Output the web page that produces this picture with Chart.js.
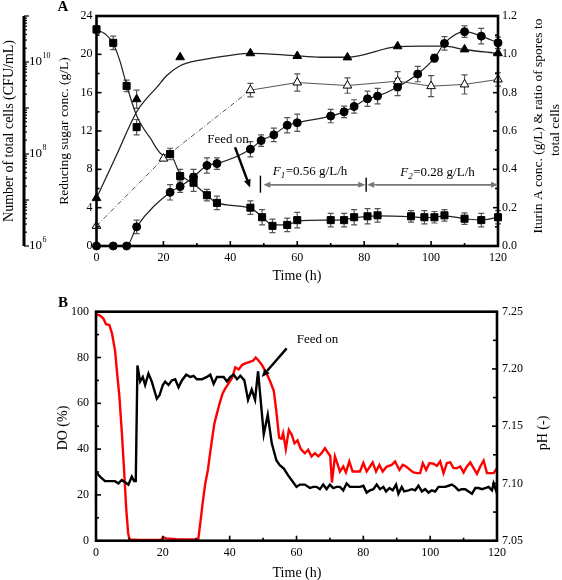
<!DOCTYPE html>
<html><head><meta charset="utf-8">
<script src="https://cdn.jsdelivr.net/npm/chart.js@4.4.0/dist/chart.umd.min.js"></script>
<style>
html,body{margin:0;padding:0;background:#fff;}
#wrap{position:relative;width:562px;height:580px;background:#fff;}
.box{position:absolute;left:0;width:562px;height:290px;}
</style></head><body>
<div id="wrap">
<div class="box" style="top:0"><canvas id="cA" width="562" height="290"></canvas></div>
<div class="box" style="top:290px"><canvas id="cB" width="562" height="290"></canvas></div>
</div>
<script>
const SERIF = "'Liberation Serif','Times New Roman',serif";

// ---------- Panel A data ----------
const sugarTime = [0,5,9,12,22,25,29,33,36,46,49.5,52.6,57,60,70,74,77,81,84,94,98,101,104,110,115,120];
const sugarVal  = [22.6,21.2,16.7,12.4,9.6,7.3,6.6,5.3,4.5,4.0,3.0,2.1,2.2,2.7,2.7,2.7,3.0,3.1,3.2,3.1,3.0,3.0,3.2,2.85,2.7,3.0];
const sugarErr  = [0.4,0.7,0.6,0.8,0.6,0.7,0.9,0.6,0.7,0.7,0.8,0.7,0.7,0.8,0.7,0.7,0.8,0.8,0.7,0.6,0.7,0.6,0.6,0.6,0.7,0.7];
const sugarFitTime = [0,3,5,7,9,12,16,20,22,25,29,33,36,46,49.5,52.6,57,60,70,74,77,81,84,94,98,101,104,110,115,120];
const sugarFit     = [22.6,22.0,21.1,19.3,16.8,13.6,11.3,9.5,9.5,7.5,6.5,5.3,4.5,3.95,3.05,2.2,2.2,2.6,2.7,2.75,2.95,3.1,3.15,3.05,2.95,3.0,3.15,2.85,2.7,3.0];

const iturinTime = [0,5,9,12,22,25,29,33,36,46,49.2,53,57,60,70,74,77,81,84,90,96,101,104,110,115,120];
const iturinVal  = [0,0,0,0.10,0.28,0.31,0.36,0.42,0.43,0.505,0.55,0.58,0.63,0.643,0.678,0.70,0.728,0.768,0.782,0.83,0.897,0.98,1.057,1.118,1.095,1.06];
const iturinErr  = [0,0,0,0.035,0.04,0.03,0.04,0.04,0.03,0.04,0.03,0.035,0.04,0.045,0.035,0.03,0.035,0.04,0.04,0.045,0.04,0.02,0.035,0.03,0.04,0.03];

const sporeTime = [0,20,46,60,75,90,100,110,120];
const sporeVal  = [0.105,0.456,0.813,0.853,0.837,0.86,0.834,0.843,0.869];
const sporeErr  = [0,0,0.035,0.045,0.04,0.05,0.055,0.05,0.035];

const cellTime = [0,12,25,46,60,75,90,110,120];
const cellVal  = [1.1e7,1.55e9,1.27e10,1.55e10,1.35e10,1.26e10,2.2e10,1.88e10,1.55e10];
const cellErrDecades = [0,0.2,0,0,0,0,0,0,0];
const cellFitTime = [0,6,12,15,18,21,25,31,40,46,58,67,75,90,97,104,110,120];
const cellFit     = [1.1e7,9.5e7,8.3e8,1.62e9,2.8e9,5.1e9,8.3e9,1.1e10,1.4e10,1.54e10,1.4e10,1.27e10,1.27e10,2.15e10,2.21e10,2.21e10,1.87e10,1.54e10];

const xTicksA = [0,20,40,60,80,100,120];

// ---------- Panel B data ----------
const doTime = [0,1.2,2.2,3,4,4.8,5.7,6.4,7,7.7,8.4,9,9.6,10,13,16,19.5,20,21,24,27,30.6,31.2,31.9,32.7,33.5,34,34.7,35.4,36.2,37,37.9,38.7,39.7,40.7,41.7,42.7,43.7,44.7,46.2,47,47.8,48.7,49.7,51,52,53.2,54,54.8,55.5,56,56.8,57.7,58.6,59.4,60.3,61.3,62.5,63.5,64.5,65.5,66.5,67.5,68.5,69.5,70.1,70.6,71.5,72.2,73,74,74.8,75.8,76.8,78,79,80,81,82,82.8,83.8,84.8,85.8,87,88.5,89.5,90.8,91.8,92.8,94,95,96.2,97,97.8,98.8,99.8,101,102,103,104,105,106,107,108,109,110,111,112,113,114,115,116,117,118,119,120];
const doVal  = [99,98.3,97,94.5,94.2,90.5,83,72,63,48,31,15,3.5,0.5,0.3,0.3,0.3,1.5,1,0.7,0.6,0.6,7.6,16.3,25,31,36.7,44,51,55.6,60,64.3,66.5,68.7,71,75.7,74.8,76.7,77.4,78.2,78.6,80,78.6,76.7,73.2,70,65.5,56,45,44.5,47,40,48.4,46.2,42.5,43.8,40,38.2,39.7,36.8,38.2,36.8,38.2,40.4,38.2,37,25.4,36.8,33.9,30.2,32.4,29.8,34.6,30.2,30.2,30.2,33.9,30.2,32.4,34.2,30.2,33.1,30.2,32.4,33.1,34.6,30.9,33.1,32.4,30.9,29.8,29.5,29.5,33.9,30.9,33.9,33.6,32.7,34.6,29.5,33.9,34.2,31.7,31.7,32.4,29.8,32.4,34.2,31.7,29.2,32.4,35,29.5,29.5,29.5,31.7];

const phTime = [0,1.2,2.7,4.7,5.7,6.7,7.7,8.7,9.7,10.7,11.4,11.9,12.4,13.2,14,14.7,15.7,16.7,17.4,18.2,19,20,20.7,21.7,22.7,23.7,24.7,25.7,27,28.2,29.2,30.2,31.7,33.2,34.2,35.2,36.2,38.2,39.2,40.2,41.2,42.2,43.2,44.4,45.5,46.6,47.6,48.5,50.2,51.4,52.6,54,55,56.2,57.5,59,60,61,62.5,64,65,66,67,68,69,70,71,72,73,74,75,76,77,79,80,81,82,83,84,85,86,86.8,87.8,88.8,89.8,90.5,91.5,92.2,93.5,94.5,95.5,96.5,97.5,98.5,99.5,100.5,101.5,102.5,103.5,104.5,105.5,106.5,107.5,108.5,109.5,110.5,111.5,112.5,113.5,114.5,115.5,116.5,117.5,118.5,119,119.8,120];
const phVal  = [7.110,7.106,7.102,7.102,7.102,7.100,7.103,7.101,7.099,7.106,7.102,7.102,7.203,7.189,7.193,7.186,7.196,7.189,7.182,7.174,7.177,7.186,7.189,7.186,7.190,7.191,7.184,7.190,7.195,7.193,7.194,7.191,7.191,7.193,7.195,7.187,7.193,7.193,7.189,7.193,7.195,7.191,7.194,7.190,7.173,7.182,7.173,7.198,7.143,7.160,7.135,7.120,7.116,7.113,7.107,7.101,7.097,7.099,7.099,7.096,7.097,7.097,7.095,7.099,7.095,7.099,7.096,7.097,7.097,7.094,7.100,7.097,7.097,7.097,7.098,7.092,7.094,7.095,7.099,7.095,7.097,7.093,7.096,7.094,7.099,7.091,7.097,7.093,7.094,7.095,7.094,7.098,7.093,7.095,7.092,7.094,7.093,7.097,7.097,7.097,7.098,7.099,7.097,7.094,7.095,7.095,7.093,7.091,7.096,7.096,7.095,7.096,7.097,7.094,7.100,7.093,7.099];

// ---------- helpers ----------
const pts = (xs, ys) => xs.map((x, i) => ({x: x, y: ys[i]}));

function frame(chart, lw) {
  const {ctx, chartArea: a} = chart;
  ctx.save(); ctx.strokeStyle = '#000'; ctx.lineWidth = lw;
  ctx.strokeRect(a.left, a.top, a.right - a.left, a.bottom - a.top);
  ctx.restore();
}
function inTicks(chart, cfg) {
  const ctx = chart.ctx, a = chart.chartArea;
  ctx.save(); ctx.strokeStyle = '#000'; ctx.lineWidth = 1.6;
  for (const id in cfg) {
    const s = chart.scales[id], c = cfg[id];
    const n = Math.round((s.max - s.min) / c.step);
    const every = Math.round(c.major / c.step);
    for (let i = 0; i <= n; i++) {
      const v = s.min + i * c.step;
      const len = (i % every === 0) ? c.lenMaj : c.lenMin;
      const p = s.getPixelForValue(v);
      ctx.beginPath();
      if (s.axis === 'x') { ctx.moveTo(p, a.bottom); ctx.lineTo(p, a.bottom - len); }
      else if (s.position === 'left') { ctx.moveTo(a.left, p); ctx.lineTo(a.left + len, p); }
      else { ctx.moveTo(a.right, p); ctx.lineTo(a.right - len, p); }
      ctx.stroke();
    }
  }
  ctx.restore();
}
function vText(ctx, text, x, y, font) {
  ctx.save(); ctx.translate(x, y); ctx.rotate(-Math.PI / 2);
  ctx.font = font; ctx.fillStyle = '#000'; ctx.textAlign = 'center'; ctx.textBaseline = 'middle';
  ctx.fillText(text, 0, 0); ctx.restore();
}
function hText(ctx, text, x, y, font, align) {
  ctx.save(); ctx.font = font; ctx.fillStyle = '#000'; ctx.textAlign = align || 'center'; ctx.textBaseline = 'middle';
  ctx.fillText(text, x, y); ctx.restore();
}
function arrow(ctx, x1, y1, x2, y2, color, lw, hl, hw) {
  const ang = Math.atan2(y2 - y1, x2 - x1);
  const bx = x2 - hl * Math.cos(ang), by = y2 - hl * Math.sin(ang);
  ctx.save(); ctx.strokeStyle = color; ctx.fillStyle = color; ctx.lineWidth = lw;
  ctx.beginPath(); ctx.moveTo(x1, y1); ctx.lineTo(bx, by); ctx.stroke();
  ctx.beginPath(); ctx.moveTo(x2, y2);
  ctx.lineTo(bx + hw * Math.sin(ang), by - hw * Math.cos(ang));
  ctx.lineTo(bx - hw * Math.sin(ang), by + hw * Math.cos(ang));
  ctx.closePath(); ctx.fill(); ctx.restore();
}
const errPlugin = {
  id: 'errbars',
  beforeDatasetsDraw(chart) {
    const ctx = chart.ctx, xs = chart.scales.x;
    chart.data.datasets.forEach(ds => {
      if (!ds.errors) return;
      const ys = chart.scales[ds.yAxisID];
      ctx.save(); ctx.strokeStyle = '#555'; ctx.lineWidth = 1.2;
      ds.data.forEach((p, j) => {
        const e = ds.errors[j]; if (!e) return;
        let lo, hi;
        if (ys.type === 'logarithmic') { lo = p.y / Math.pow(10, e); hi = p.y * Math.pow(10, e); }
        else { lo = p.y - e; hi = p.y + e; }
        const x = xs.getPixelForValue(p.x), y1 = ys.getPixelForValue(lo), y2 = ys.getPixelForValue(hi);
        ctx.beginPath();
        ctx.moveTo(x, y1); ctx.lineTo(x, y2);
        ctx.moveTo(x - 3, y1); ctx.lineTo(x + 3, y1);
        ctx.moveTo(x - 3, y2); ctx.lineTo(x + 3, y2);
        ctx.stroke();
      });
      ctx.restore();
    });
  }
};
const tickFont = {family: SERIF, size: 12};
const baseX = (h) => ({
  type: 'linear', min: 0, max: 120,
  afterBuildTicks: s => { s.ticks = xTicksA.map(v => ({value: v})); },
  ticks: {font: tickFont, color: '#000', padding: 5, maxRotation: 0, autoSkip: false},
  grid: {display: false, drawTicks: false}, border: {display: false},
  afterFit: s => { s.height = h; }
});

// ---------- Panel A ----------
new Chart(document.getElementById('cA'), {
  type: 'line',
  data: {datasets: [
    {data: pts(cellTime, cellVal), yAxisID: 'yCells', showLine: false, pointStyle: 'triangle', pointRadius: 5, backgroundColor: '#000', borderColor: '#000', borderWidth: 1, errors: cellErrDecades, order: 0, clip: false},
    {data: pts(sporeTime, sporeVal), yAxisID: 'yRight', showLine: false, pointStyle: 'triangle', pointRadius: 5, backgroundColor: '#fff', borderColor: '#000', borderWidth: 1, errors: sporeErr, order: 0, clip: false},
    {data: pts(iturinTime, iturinVal), yAxisID: 'yRight', showLine: false, pointStyle: 'circle', pointRadius: 4, backgroundColor: '#000', borderColor: '#000', borderWidth: 1, errors: iturinErr, order: 0, clip: false},
    {data: pts(sugarTime, sugarVal), yAxisID: 'ySugar', showLine: false, pointStyle: 'rect', pointRadius: 5, backgroundColor: '#000', borderColor: '#000', borderWidth: 1, errors: sugarErr, order: 0, clip: false},
    {data: pts(cellFitTime, cellFit), yAxisID: 'yCells', borderColor: '#222', borderWidth: 1.3, pointRadius: 0, cubicInterpolationMode: 'monotone', order: 1},
    {data: pts(sporeTime, sporeVal), yAxisID: 'yRight', borderColor: '#555', borderWidth: 1, pointRadius: 0, tension: 0, order: 1,
      segment: {borderDash: c => c.p1.parsed.x <= 46 ? [5, 2, 1, 2] : undefined}},
    {data: pts(iturinTime, iturinVal), yAxisID: 'yRight', borderColor: '#222', borderWidth: 1.2, pointRadius: 0, cubicInterpolationMode: 'monotone', order: 1},
    {data: pts(sugarFitTime, sugarFit), yAxisID: 'ySugar', borderColor: '#222', borderWidth: 1.2, pointRadius: 0, cubicInterpolationMode: 'monotone', order: 1}
  ]},
  options: {
    responsive: false, animation: false, devicePixelRatio: 1,
    layout: {padding: {top: 16, left: 0, right: 0, bottom: 0}},
    plugins: {legend: {display: false}, tooltip: {enabled: false}},
    scales: {
      x: baseX(44),
      ySugar: {position: 'left', min: 0, max: 24,
        ticks: {stepSize: 4, font: tickFont, color: '#000', padding: 4},
        grid: {display: false, drawTicks: false}, border: {display: false},
        afterFit: s => { s.width = 96.5; }},
      yRight: {position: 'right', min: 0, max: 1.2,
        ticks: {stepSize: 0.2, font: tickFont, color: '#000', padding: 4, callback: v => v.toFixed(1)},
        grid: {display: false, drawTicks: false}, border: {display: false},
        afterFit: s => { s.width = 64; }},
      yCells: {type: 'logarithmic', min: 1e6, max: 1e11, display: false}
    }
  },
  plugins: [errPlugin, {
    id: 'decorA',
    afterDraw(chart) {
      const ctx = chart.ctx, a = chart.chartArea, xs = chart.scales.x, ys = chart.scales.ySugar, yc = chart.scales.yCells;
      frame(chart, 2.6);
      inTicks(chart, {
        x: {step: 10, major: 20, lenMaj: 5, lenMin: 3},
        ySugar: {step: 2, major: 4, lenMaj: 5, lenMin: 3},
        yRight: {step: 0.1, major: 0.2, lenMaj: 5, lenMin: 3}
      });
      // far-left log axis
      const ax = 24;
      ctx.save(); ctx.strokeStyle = '#000';
      ctx.lineWidth = 3; ctx.beginPath(); ctx.moveTo(ax, yc.top); ctx.lineTo(ax, yc.bottom); ctx.stroke();
      ctx.lineWidth = 1.2;
      for (let d = 6; d <= 11; d++) {
        for (let k = 1; k <= 9; k++) {
          const v = k * Math.pow(10, d); if (v > 1e11) break;
          const y = yc.getPixelForValue(v);
          const len = k === 1 ? 5 : 3;
          ctx.beginPath(); ctx.moveTo(ax, y); ctx.lineTo(ax + len, y); ctx.stroke();
        }
      }
      [6, 8, 10].forEach(d => {
        const y = yc.getPixelForValue(Math.pow(10, d));
        ctx.font = '13px ' + SERIF; ctx.fillStyle = '#000'; ctx.textAlign = 'left'; ctx.textBaseline = 'middle';
        ctx.fillText('10', 29, y);
        const w = ctx.measureText('10').width;
        ctx.font = '8px ' + SERIF; ctx.fillText(String(d), 29 + w + 0.5, y - 6);
      });
      ctx.restore();
      // titles
      vText(ctx, 'Number of total cells (CFU/mL)', 9, 131, '14px ' + SERIF);
      vText(ctx, 'Reducing sugar conc. (g/L)', 64, 131, '13.5px ' + SERIF);
      vText(ctx, 'Iturin A conc. (g/L) & ratio of spores to', 538, 126, '13.5px ' + SERIF);
      vText(ctx, 'total cells', 555, 130, '13.5px ' + SERIF);
      hText(ctx, 'Time (h)', 297, 276, '14px ' + SERIF);
      hText(ctx, 'A', 63, 7, 'bold 15px ' + SERIF);
      // Feed on annotation
      hText(ctx, 'Feed on', xs.getPixelForValue(33.1), ys.getPixelForValue(11.15), '13px ' + SERIF, 'left');
      arrow(ctx, xs.getPixelForValue(41.4), ys.getPixelForValue(10.3), xs.getPixelForValue(45.9), ys.getPixelForValue(6.1), '#000', 2.4, 8, 3.5);
      // feed-rate spans
      const yL = ys.getPixelForValue(6.4), x49 = xs.getPixelForValue(49), x80 = xs.getPixelForValue(80.6), x120 = xs.getPixelForValue(120);
      ctx.save(); ctx.strokeStyle = '#000'; ctx.lineWidth = 1.4;
      ctx.beginPath(); ctx.moveTo(x49, yL - 9); ctx.lineTo(x49, yL + 8); ctx.stroke();
      ctx.beginPath(); ctx.moveTo(x80, yL - 7); ctx.lineTo(x80, yL + 7); ctx.stroke();
      ctx.restore();
      arrow(ctx, x80 - 2, yL, x49 + 3, yL, '#777', 1.5, 7, 3);
      arrow(ctx, x49 + 10, yL, x80 - 1, yL, '#777', 1.5, 7, 3);
      arrow(ctx, x120 - 2, yL, x80 + 1, yL, '#777', 1.5, 7, 3);
      arrow(ctx, x80 + 10, yL, x120, yL, '#777', 1.5, 7, 3);
      const fLabel = (x, y, sub, rest) => {
        ctx.save(); ctx.fillStyle = '#000'; ctx.textBaseline = 'middle'; ctx.textAlign = 'left';
        ctx.font = 'italic 13px ' + SERIF; ctx.fillText('F', x, y);
        let w = ctx.measureText('F').width;
        ctx.font = 'italic 9px ' + SERIF; ctx.fillText(sub, x + w, y + 4);
        w += ctx.measureText(sub).width;
        ctx.font = '13px ' + SERIF; ctx.fillText(rest, x + w + 0.5, y);
        ctx.restore();
      };
      fLabel(xs.getPixelForValue(52.7), ys.getPixelForValue(7.73), '1', '=0.56 g/L/h');
      fLabel(xs.getPixelForValue(90.8), ys.getPixelForValue(7.63), '2', '=0.28 g/L/h');
    }
  }]
});

// ---------- Panel B ----------
new Chart(document.getElementById('cB'), {
  type: 'line',
  data: {datasets: [
    {data: pts(phTime, phVal), yAxisID: 'yPH', borderColor: '#000', borderWidth: 2.4, pointRadius: 0, tension: 0},
    {data: pts(doTime, doVal), yAxisID: 'yDO', borderColor: '#ff0000', borderWidth: 2.4, pointRadius: 0, tension: 0}
  ]},
  options: {
    responsive: false, animation: false, devicePixelRatio: 1,
    layout: {padding: {top: 21.7, left: 0, right: 0, bottom: 0}},
    plugins: {legend: {display: false}, tooltip: {enabled: false}},
    scales: {
      x: baseX(39.3),
      yDO: {position: 'left', min: 0, max: 100,
        ticks: {stepSize: 20, font: tickFont, color: '#000', padding: 7},
        grid: {display: false, drawTicks: false}, border: {display: false},
        afterFit: s => { s.width = 96; }},
      yPH: {position: 'right', min: 7.05, max: 7.25,
        ticks: {stepSize: 0.05, font: tickFont, color: '#000', padding: 5, callback: v => v.toFixed(2)},
        grid: {display: false, drawTicks: false}, border: {display: false},
        afterFit: s => { s.width = 65; }}
    }
  },
  plugins: [{
    id: 'decorB',
    afterDraw(chart) {
      const ctx = chart.ctx, xs = chart.scales.x, ys = chart.scales.yDO;
      frame(chart, 2.6);
      inTicks(chart, {
        x: {step: 10, major: 20, lenMaj: 5, lenMin: 3},
        yDO: {step: 10, major: 20, lenMaj: 5, lenMin: 3},
        yPH: {step: 0.025, major: 0.05, lenMaj: 5, lenMin: 4}
      });
      vText(ctx, 'DO (%)', 63, 138, '14px ' + SERIF);
      vText(ctx, 'pH (-)', 543, 143, '14px ' + SERIF);
      hText(ctx, 'Time (h)', 297, 283, '14px ' + SERIF);
      hText(ctx, 'B', 63, 12.7, 'bold 15px ' + SERIF);
      hText(ctx, 'Feed on', xs.getPixelForValue(60.05), ys.getPixelForValue(88), '13px ' + SERIF, 'left');
      arrow(ctx, xs.getPixelForValue(57.06), ys.getPixelForValue(84), xs.getPixelForValue(49.6), ys.getPixelForValue(71.5), '#000', 2.4, 8, 3.5);
    }
  }]
});
</script>
</body></html>
